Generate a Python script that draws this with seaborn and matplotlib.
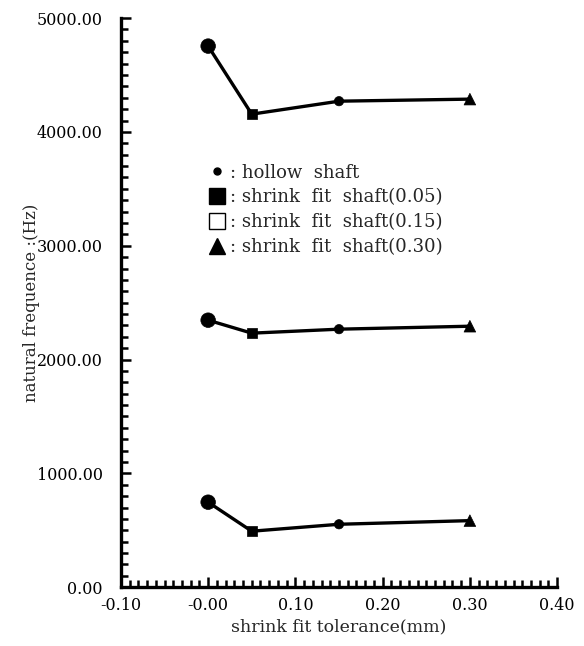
import numpy as np
import pandas as pd
import matplotlib
matplotlib.use("Agg")
import matplotlib.pyplot as plt
from matplotlib.ticker import MultipleLocator, FixedLocator
from matplotlib.lines import Line2D
import seaborn as sns

# shrink fit tolerance (mm) for each computed case
tolerance = [0.00, 0.05, 0.15, 0.30]
# natural frequencies (Hz) of the three modes
mode1 = [747, 492, 553, 585]
mode2 = [2346, 2232, 2267, 2293]
mode3 = [4754, 4156, 4270, 4288]
case_names = ["hollow", "fit0.05", "fit0.15", "fit0.30"]

xticks = [-0.10, 0.00, 0.10, 0.20, 0.30, 0.40]
xticklabels = ["-0.10", "-0.00", "0.10", "0.20", "0.30", "0.40"]
yticks = [0, 1000, 2000, 3000, 4000, 5000]
yticklabels = ["0.00", "1000.00", "2000.00", "3000.00", "4000.00", "5000.00"]

legend_labels = [": hollow  shaft",
                 ": shrink  fit  shaft(0.05)",
                 ": shrink  fit  shaft(0.15)",
                 ": shrink  fit  shaft(0.30)"]

rows = []
for mode, vals in (("1", mode1), ("2", mode2), ("3", mode3)):
    for t, v, c in zip(tolerance, vals, case_names):
        rows.append({"tol": t, "freq": v, "mode": mode, "case": c})
df = pd.DataFrame(rows)

sns.set_style("ticks")
plt.rcParams["font.family"] = ["DejaVu Serif"]

fig = plt.figure(figsize=(5.84, 6.46), dpi=100)
ax = fig.add_axes([0.207, 0.091, 0.747, 0.881])

sns.lineplot(data=df, x="tol", y="freq", units="mode", estimator=None,
             color="black", linewidth=2.4, ax=ax, legend=False)

marker_map = {"hollow": "o", "fit0.05": "s", "fit0.15": "o", "fit0.30": "^"}
size_map = {"hollow": 110, "fit0.05": 55, "fit0.15": 45, "fit0.30": 70}
sns.scatterplot(data=df, x="tol", y="freq", style="case", size="case",
                markers=marker_map, sizes=size_map, color="black",
                edgecolor="black", linewidth=0.5, ax=ax, legend=False, zorder=3)

ax.set_xlim(-0.10, 0.40)
ax.set_ylim(0, 5000)
ax.xaxis.set_major_locator(FixedLocator(xticks))
ax.set_xticklabels(xticklabels)
ax.yaxis.set_major_locator(FixedLocator(yticks))
ax.set_yticklabels(yticklabels)
ax.xaxis.set_minor_locator(MultipleLocator(0.01))
ax.yaxis.set_minor_locator(MultipleLocator(100))
ax.tick_params(axis="both", which="both", direction="in", width=1.8,
               labelsize=11.5, colors="black")
ax.tick_params(axis="both", which="major", length=7)
ax.tick_params(axis="both", which="minor", length=5)
ax.tick_params(axis="y", which="major", pad=13)
ax.tick_params(axis="x", which="major", pad=7)
for s in ("top", "right"):
    ax.spines[s].set_visible(False)
for s in ("left", "bottom"):
    ax.spines[s].set_linewidth(2.4)
    ax.spines[s].set_color("black")

ax.set_xlabel("shrink fit tolerance(mm)", fontsize=12.5, labelpad=3)
ax.set_ylabel("natural frequence :(Hz)", fontsize=12, labelpad=-2)

# marker key drawn as text lines inside the axes
handles = [
    Line2D([], [], marker="o", color="black", linestyle="none", markersize=5),
    Line2D([], [], marker="s", color="black", linestyle="none", markersize=11),
    Line2D([], [], marker="s", markerfacecolor="white", markeredgecolor="black",
           linestyle="none", markersize=11, markeredgewidth=1.0),
    Line2D([], [], marker="^", color="black", linestyle="none", markersize=11),
]
ax.legend(handles, legend_labels, loc="upper left", bbox_to_anchor=(0.18, 0.757),
          frameon=False, fontsize=13, handletextpad=0.1, labelspacing=0.38,
          handlelength=1.2, borderaxespad=0)

fig.savefig("out.png", dpi=100, facecolor="white")
